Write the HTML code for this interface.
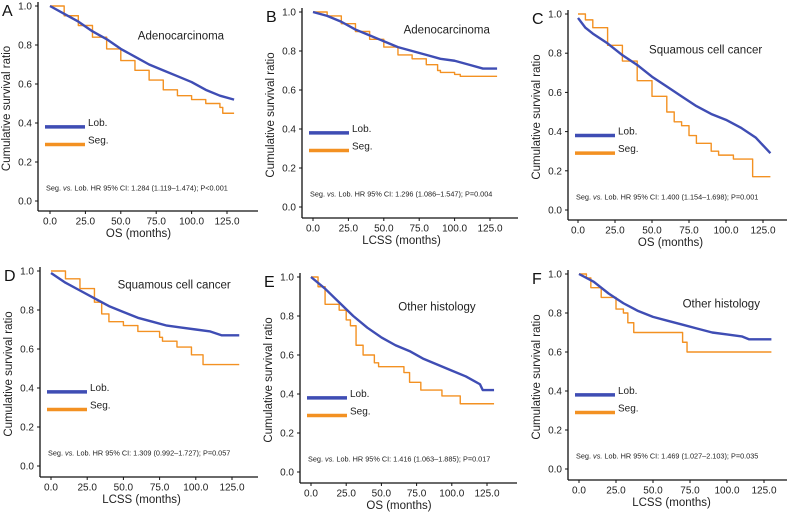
<!DOCTYPE html>
<html><head><meta charset="utf-8"><style>
html,body{margin:0;padding:0;background:#fff;}
svg{display:block;font-family:"Liberation Sans",sans-serif;}
</style></head><body>
<svg id="fig" width="787" height="512" viewBox="0 0 787 512"></svg>
<script>
// ---- data ----
const xTicks = [0, 25, 50, 75, 100, 125];
const xTickLabels = ["0.0", "25.0", "50.0", "75.0", "100.0", "125.0"];
const yTicks = [0, 0.2, 0.4, 0.6, 0.8, 1.0];
const yTickLabels = ["0.0", "0.2", "0.4", "0.6", "0.8", "1.0"];
const panelLetters = ["A", "B", "C", "D", "E", "F"];
const panelTitles = ["Adenocarcinoma", "Adenocarcinoma", "Squamous cell cancer", "Squamous cell cancer", "Other histology", "Other histology"];
const xAxisTitles = ["OS (months)", "LCSS (months)", "OS (months)", "LCSS (months)", "OS (months)", "LCSS (months)"];
const hrNotes = ["1.284 (1.119\u20131.474); P<0.001", "1.296 (1.086\u20131.547); P=0.004", "1.400 (1.154\u20131.698); P=0.001", "1.309 (0.992\u20131.727); P=0.057", "1.416 (1.063\u20131.885); P=0.017", "1.469 (1.027\u20132.103); P=0.035"];
const titleX = [62, 64, 48, 46, 62, 70];
const titleY = [0.85, 0.91, 0.82, 0.93, 0.85, 0.85];

const lobTimes = [
 [0,10,20,30,40,50,60,70,80,90,100,110,120,130],
 [0,10,20,30,40,50,60,70,80,90,100,110,120,130],
 [0,5,10,20,30,40,50,60,70,80,90,100,110,120,130],
 [0,10,20,30,40,50,60,70,80,90,100,110,118,130],
 [0,10,20,30,40,50,60,70,80,90,100,110,120,122,130],
 [0,10,20,30,40,50,60,70,80,90,100,110,115,130]
];
const lobValues = [
 [1,0.96,0.92,0.87,0.83,0.78,0.74,0.70,0.67,0.64,0.61,0.57,0.54,0.52],
 [1,0.98,0.95,0.91,0.88,0.85,0.82,0.80,0.78,0.76,0.75,0.73,0.71,0.71],
 [0.98,0.93,0.90,0.85,0.79,0.74,0.68,0.63,0.58,0.53,0.49,0.46,0.42,0.37,0.29],
 [0.99,0.94,0.90,0.86,0.82,0.79,0.76,0.74,0.72,0.71,0.70,0.69,0.67,0.67],
 [1,0.94,0.87,0.80,0.74,0.69,0.65,0.62,0.58,0.55,0.52,0.49,0.45,0.42,0.42],
 [1,0.96,0.90,0.85,0.81,0.78,0.76,0.74,0.72,0.70,0.69,0.68,0.665,0.665]
];
const segTimes = [
 [0,10,20,30,40,50,60,70,80,90,100,110,120,122,130],
 [0,10,20,30,40,50,60,70,80,88,90,100,104,130],
 [0,5,10,20,30,40,50,60,65,70,75,80,90,95,105,118,130],
 [0,10,20,30,35,40,50,60,75,77,87,97,105,130],
 [0,5,10,20,25,28,32,37,45,48,66,70,78,93,106,130],
 [0,5,8,15,25,30,33,37,68,70,73,130]
];
const segValues = [
 [1,0.95,0.90,0.84,0.78,0.72,0.67,0.62,0.57,0.54,0.52,0.50,0.48,0.45,0.45],
 [1,0.98,0.94,0.90,0.86,0.82,0.78,0.76,0.73,0.70,0.69,0.68,0.67,0.67],
 [1,0.97,0.93,0.84,0.76,0.66,0.58,0.50,0.45,0.43,0.38,0.34,0.30,0.28,0.26,0.17,0.17],
 [1,0.96,0.91,0.84,0.78,0.74,0.72,0.69,0.66,0.64,0.61,0.57,0.52,0.52],
 [1,0.95,0.86,0.83,0.78,0.75,0.65,0.60,0.56,0.54,0.51,0.46,0.42,0.39,0.35,0.35],
 [1,0.98,0.93,0.88,0.82,0.80,0.75,0.70,0.70,0.65,0.60,0.60]
];

// ---- layout (pixels) ----
const layout = [
 {ax:38, y1:6, y0:201, bot:211, x0:50, x125:227, right:258},
 {ax:302, y1:12, y0:207, bot:218, x0:313, x125:490, right:518},
 {ax:568, y1:14, y0:210, bot:220, x0:578, x125:763, right:787},
 {ax:40, y1:271, y0:466, bot:477, x0:51, x125:232, right:258},
 {ax:300, y1:277, y0:472, bot:483, x0:311, x125:487, right:517},
 {ax:568, y1:274, y0:469, bot:480, x0:579, x125:764, right:787}
];
const BLUE = "#3f4db4", ORANGE = "#f39122";
const NS = "http://www.w3.org/2000/svg";
const svg = document.getElementById("fig");
function mk(tag, attrs, parent, text) {
  const e = document.createElementNS(NS, tag);
  for (const k in attrs) e.setAttribute(k, attrs[k]);
  if (text !== undefined) e.textContent = text;
  parent.appendChild(e);
  return e;
}

for (let p = 0; p < 6; p++) {
  const L = layout[p];
  const sx = t => L.x0 + (t / 125) * (L.x125 - L.x0);
  const sy = v => L.y0 - v * (L.y0 - L.y1);
  const g = mk("g", {}, svg);
  
  

  const letter = mk("text", {x: L.ax - 36, y: L.y1 + 10, "font-size": 16, fill: "#111"}, g, panelLetters[p]);
  
  

  const ya = mk("line", {x1: L.ax, y1: L.y1 - 4, x2: L.ax, y2: L.bot, stroke: "#111", "stroke-width": 1.3}, g);
  
  
  const xa = mk("line", {x1: L.ax, y1: L.bot, x2: L.right, y2: L.bot, stroke: "#111", "stroke-width": 1.3}, g);
  
  

  yTicks.forEach((v, i) => {
    mk("line", {x1: L.ax - 3, y1: sy(v), x2: L.ax, y2: sy(v), stroke: "#111", "stroke-width": 1}, g);
    const t = mk("text", {x: L.ax - 6, y: sy(v) + 3.5, "font-size": 10, "text-anchor": "end", fill: "#222"}, g, yTickLabels[i]);
    
    
  });
  xTicks.forEach((v, i) => {
    mk("line", {x1: sx(v), y1: L.bot, x2: sx(v), y2: L.bot + 3, stroke: "#111", "stroke-width": 1}, g);
    const t = mk("text", {x: sx(v), y: L.bot + 13.5, "font-size": 10, "text-anchor": "middle", fill: "#222"}, g, xTickLabels[i]);
    
    
  });
  const xt = mk("text", {x: (L.x0 + L.x125) / 2, y: L.bot + 26, "font-size": 11.5, "text-anchor": "middle", fill: "#222"}, g, xAxisTitles[p]);
  
  
  const ymid = (L.y1 + L.bot) / 2;
  const yt = mk("text", {x: L.ax - 28, y: ymid, "font-size": 11.5, "text-anchor": "middle", fill: "#222", transform: `rotate(-90 ${L.ax - 28} ${ymid})`}, g, "Cumulative survival ratio");
  
  

  const title = mk("text", {x: sx(titleX[p]), y: sy(titleY[p]) + 4, "font-size": 11.5, fill: "#222"}, g, panelTitles[p]);
  
  

  const note = mk("text", {x: L.ax + 8, y: sy(0.07) + 3, "font-size": 7.3, fill: "#222"}, g);
  
  
  mk("tspan", {}, note, "Seg. ");
  mk("tspan", {"font-style": "italic"}, note, "vs.");
  mk("tspan", {}, note, " Lob. HR 95% CI: " + hrNotes[p]);

  const lx = L.ax + 7;
  [[BLUE, "Lob.", 0.38], [ORANGE, "Seg.", 0.29]].forEach(([c, lab, v]) => {
    const ll = mk("line", {x1: lx, y1: sy(v), x2: lx + 40, y2: sy(v), stroke: c, "stroke-width": 3.5}, g);
    
    
    const lt = mk("text", {x: lx + 43, y: sy(v) - 1, "font-size": 10, fill: "#222"}, g, lab);
    
    
  });

  function drawCurve(times, vals, color, name, step) {
    let d = "M" + sx(times[0]) + "," + sy(vals[0]);
    for (let i = 1; i < times.length; i++) {
      if (step) d += " L" + sx(times[i]) + "," + sy(vals[i - 1]);
      d += " L" + sx(times[i]) + "," + sy(vals[i]);
    }
    const path = mk("path", {d: d, fill: "none", stroke: color, "stroke-width": step ? 1.4 : 2.4, "stroke-linejoin": "round"}, g);
    
    
  }
  drawCurve(segTimes[p], segValues[p], ORANGE, 'seg-curve', true);
  drawCurve(lobTimes[p], lobValues[p], BLUE, 'lob-curve', false);
}
</script>
</body></html>
